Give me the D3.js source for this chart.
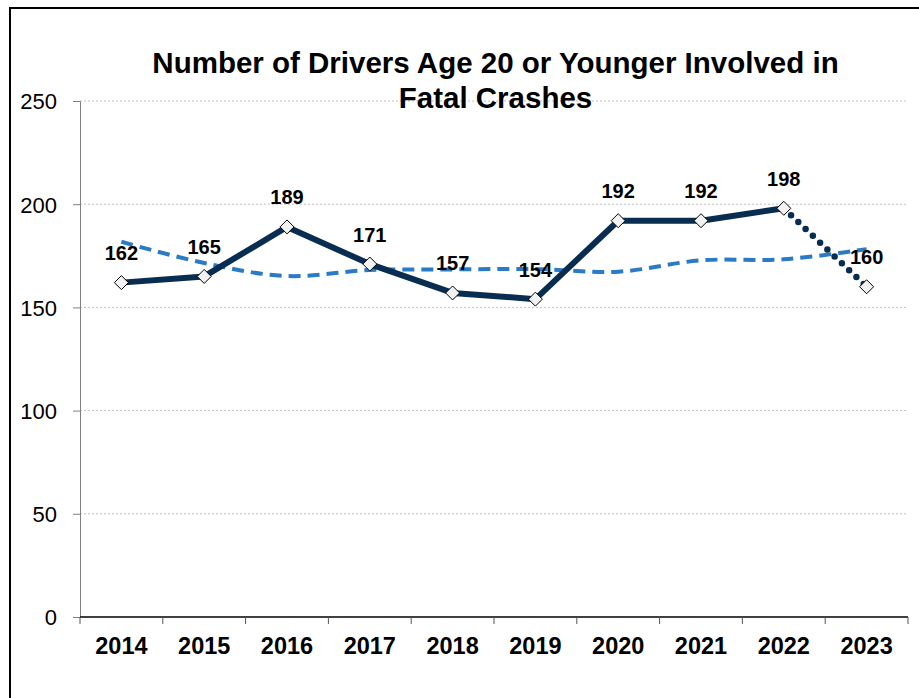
<!DOCTYPE html>
<html><head><meta charset="utf-8">
<script src="https://cdn.jsdelivr.net/npm/d3@7"></script>
<style>body{margin:0;background:#fff;} svg{display:block;}</style>
</head><body>
<script>
const years = ["2014","2015","2016","2017","2018","2019","2020","2021","2022","2023"];
const drivers = [162,165,189,171,157,154,192,192,198,160];
const trend = [181.8,171.5,165.2,168.1,168.4,168.6,167.3,172.8,173.3,178.2];
const yTicks = [0,50,100,150,200,250];
const titleLines = ["Number of Drivers Age 20 or Younger Involved in","Fatal Crashes"];

const W=919,H=698;
const FF="Liberation Sans, Arial, sans-serif";
const svg=d3.select("body").append("svg").attr("width",W).attr("height",H);
svg.append("rect").attr("x",10).attr("y",8).attr("width",940).attr("height",720)
  .attr("fill","#fff").attr("stroke","#000").attr("stroke-width",2);

const x=d3.scaleBand().domain(years).range([80,908]);
const y=d3.scaleLinear().domain([0,250]).range([617,101]);
const cx=d=>x(d)+x.bandwidth()/2;

// gridlines
svg.append("g").selectAll("line").data(yTicks.filter(t=>t>0)).join("line")
  .attr("x1",80).attr("x2",908).attr("y1",d=>y(d)).attr("y2",d=>y(d))
  .attr("stroke","#c0c0c0").attr("stroke-width",1).attr("stroke-dasharray","2,2");

// y axis
const ya=svg.append("g").attr("transform","translate(80,0)")
  .call(d3.axisLeft(y).tickValues(yTicks).tickSize(7).tickPadding(16).tickFormat(d3.format("d")));
ya.select(".domain").attr("stroke","#808080");
ya.selectAll(".tick line").attr("stroke","#808080");
ya.selectAll("text").attr("font-family",FF).attr("font-size",22).attr("fill","#000")
  .attr("x",-23).attr("dy","0.36em");

// x axis
const xa=svg.append("g").attr("transform","translate(0,617)")
  .call(d3.axisBottom(x).tickSize(0).tickPadding(0));
xa.select(".domain").remove();
xa.append("line").attr("x1",80).attr("x2",908).attr("stroke","#000").attr("stroke-width",1.3);
xa.selectAll(".tk").data(d3.range(11)).join("line").attr("class","tk")
  .attr("x1",i=>80+i*x.bandwidth()).attr("x2",i=>80+i*x.bandwidth())
  .attr("y1",0).attr("y2",7).attr("stroke","#555");
xa.selectAll(".tick text").attr("font-family",FF).attr("font-size",23.5)
  .attr("font-weight","bold").attr("fill","#000").attr("y",37).attr("dy",0);

// trend (dashed, smoothed)
svg.append("path").datum(years.map((d,i)=>[cx(d),y(trend[i])]))
  .attr("d",d3.line().curve(d3.curveCatmullRom.alpha(0.5)))
  .attr("fill","none").attr("stroke","#2a7ac6").attr("stroke-width",4).attr("stroke-dasharray","12,7");

// main line solid through 2022
const pts=years.map((d,i)=>[cx(d),y(drivers[i])]);
svg.append("path").datum(pts.slice(0,9)).attr("d",d3.line())
  .attr("fill","none").attr("stroke","#082d50").attr("stroke-width",6).attr("stroke-linejoin","round");
svg.append("path").datum(pts.slice(8)).attr("d",d3.line())
  .attr("fill","none").attr("stroke","#082d50").attr("stroke-width",6.5)
  .attr("stroke-linecap","round").attr("stroke-dasharray","0,10");

// markers
svg.append("g").selectAll("path").data(pts).join("path")
  .attr("transform",d=>`translate(${d[0]},${d[1]})`)
  .attr("d","M0,-7L7,0L0,7L-7,0Z").attr("fill","#f2f2f2").attr("stroke","#000").attr("stroke-width",1);

// labels
svg.append("g").selectAll("text").data(years).join("text")
  .attr("x",d=>cx(d)).attr("y",(d,i)=>y(drivers[i])-22.5).attr("text-anchor","middle")
  .attr("font-family",FF).attr("font-size",20).attr("font-weight","bold")
  .text((d,i)=>drivers[i]);

// title
svg.append("g").selectAll("text").data(titleLines).join("text")
  .attr("x",495.5).attr("y",(d,i)=>73+i*34.5).attr("text-anchor","middle")
  .attr("font-family",FF).attr("font-size",29.5).attr("font-weight","bold")
  .text(d=>d);
</script>
</body></html>
